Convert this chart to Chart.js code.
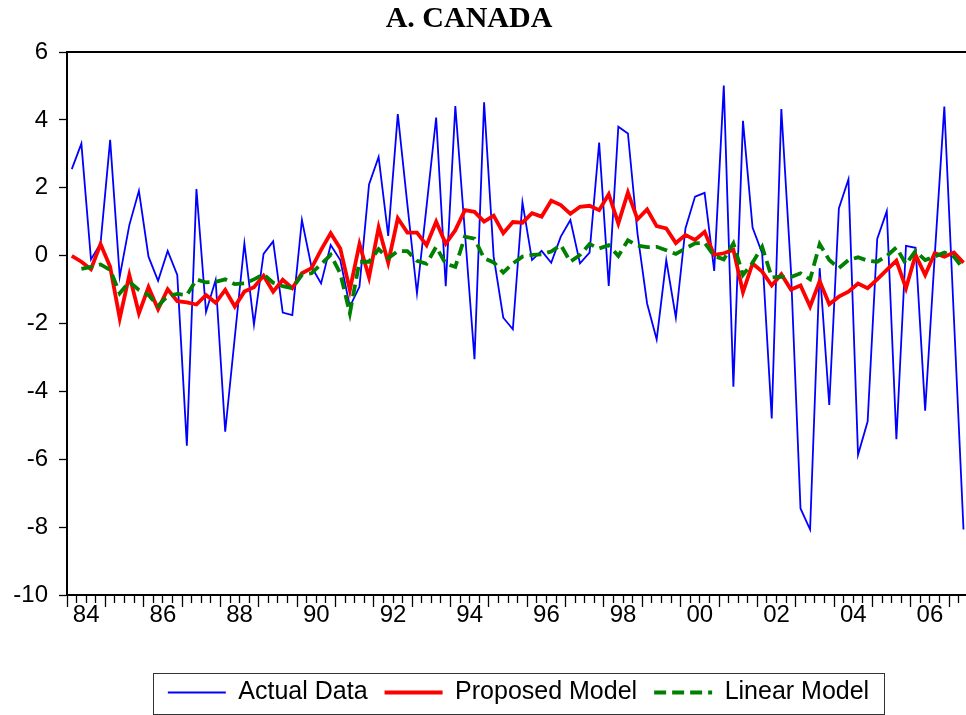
<!DOCTYPE html>
<html>
<head>
<meta charset="utf-8">
<title>A. CANADA</title>
<script src="https://cdn.jsdelivr.net/npm/chart.js@4.4.1/dist/chart.umd.min.js"></script>
<style>
    html, body { margin: 0; padding: 0; background: #fff; }
    #wrap { width: 966px; height: 715px; position: relative; }
</style>
</head>
<body>
<div id="wrap"><canvas id="canadaChart"></canvas></div>
<script>
// Quarterly series, index 0 = 1984Q1 ... index 93 = 2007Q2
const yearLabels = ['84', '86', '88', '90', '92', '94', '96', '98', '00', '02', '04', '06'];
const yTicks = [-10, -8, -6, -4, -2, 0, 2, 4, 6];

const actualData = [
    2.55, 3.30, -0.11, 0.36, 3.41, -0.62, 0.90, 1.91, -0.03, -0.74,
    0.14, -0.57, -5.60, 1.96, -1.66, -0.72, -5.19, -2.40, 0.36, -2.03,
    0.05, 0.42, -1.68, -1.75, 1.05, -0.33, -0.82, 0.31, -0.13, -1.50,
    -0.92, 2.10, 2.91, 0.58, 4.17, 1.50, -1.11, 1.45, 4.07, -0.90,
    4.41, 0.68, -3.05, 4.52, -0.03, -1.83, -2.17, 1.57, -0.13, 0.14,
    -0.21, 0.56, 1.05, -0.23, 0.09, 3.33, -0.89, 3.80, 3.60, 0.65,
    -1.41, -2.47, -0.13, -1.83, 0.80, 1.74, 1.85, -0.45, 5.01, -3.86,
    3.97, 0.83, 0.07, -4.80, 4.32, -0.42, -7.45, -8.07, -0.37, -4.40,
    1.39, 2.25, -5.87, -4.89, 0.49, 1.31, -5.41, 0.29, 0.23, -4.57,
    0.00, 4.39, -1.84, -8.07
];

const proposedModel = [
    -0.01, -0.18, -0.40, 0.34, -0.33, -1.85, -0.57, -1.70, -0.93, -1.58,
    -0.99, -1.34, -1.38, -1.44, -1.16, -1.39, -1.01, -1.50, -1.06, -0.93,
    -0.59, -1.06, -0.71, -0.96, -0.52, -0.37, 0.17, 0.66, 0.21, -1.01,
    0.34, -0.64, 0.83, -0.21, 1.10, 0.68, 0.68, 0.31, 1.00, 0.35,
    0.75, 1.34, 1.29, 1.00, 1.18, 0.66, 0.99, 0.97, 1.25, 1.15,
    1.62, 1.49, 1.23, 1.44, 1.47, 1.34, 1.81, 0.95, 1.86, 1.07,
    1.36, 0.87, 0.80, 0.37, 0.61, 0.46, 0.70, 0.02, 0.07, 0.17,
    -1.08, -0.23, -0.47, -0.88, -0.55, -1.00, -0.88, -1.50, -0.75, -1.43,
    -1.21, -1.06, -0.82, -0.96, -0.70, -0.42, -0.15, -0.96, 0.02, -0.57,
    0.07, -0.03, 0.09, -0.21
];

const linearModel = [
    null, -0.39, -0.33, -0.26, -0.42, -1.11, -0.77, -1.01, -1.16, -1.48,
    -1.19, -1.13, -1.16, -0.70, -0.79, -0.77, -0.70, -0.84, -0.82, -0.70,
    -0.55, -0.80, -0.90, -0.96, -0.57, -0.52, -0.25, 0.02, -0.52, -1.70,
    -0.18, -0.18, 0.19, -0.08, 0.13, 0.13, -0.15, -0.24, 0.26, -0.24,
    -0.33, 0.56, 0.50, -0.08, -0.20, -0.50, -0.23, -0.03, 0.02, 0.04,
    0.12, 0.31, -0.18, 0.02, 0.34, 0.21, 0.31, -0.01, 0.45, 0.30,
    0.25, 0.26, 0.16, 0.05, 0.21, 0.36, 0.38, -0.01, -0.11, 0.36,
    -0.57, -0.21, 0.26, -0.64, -0.62, -0.63, -0.52, -0.70, 0.34, -0.13,
    -0.37, -0.13, -0.05, -0.15, -0.18, -0.01, 0.24, -0.25, 0.14, -0.13,
    -0.03, 0.09, -0.03, -0.40
];

// quarter index -> point
const toPoints = arr => arr.map((v, i) => ({ x: i, y: v }));

const X_MIN = -0.5;   // start of 1984Q1
const X_MAX = 93.26;  // right edge of the plot

Chart.defaults.font.family = "'Liberation Sans', Arial, sans-serif";
Chart.defaults.color = '#000';

// legend box + small position tweaks (EViews centres legend under the plot)
const layoutTweaks = {
    id: 'layoutTweaks',
    afterLayout(chart) {
        const ca = chart.chartArea;
        const lg = chart.legend;
        const shift = ((ca.left + ca.right) - (lg.left + lg.right)) / 2 + 2;
        lg.left += shift;
        lg.right += shift;
        chart.titleBlock.left -= 14;
        chart.titleBlock.right -= 14;
    },
    afterDraw(chart) {
        const lg = chart.legend;
        const pad = lg.options.labels.padding;
        const fontSize = lg.options.labels.font.size;
        const lw = lg.lineWidths[0];
        const startX = (lg.left + pad + lg.right - lw) / 2;
        const endX = startX + lw - pad;
        const cy = lg.top + pad + fontSize / 2;
        const ctx = chart.ctx;
        ctx.save();
        ctx.strokeStyle = '#333';
        ctx.lineWidth = 1;
        ctx.strokeRect(Math.round(startX - 15) + 0.5, Math.round(cy - 20) + 0.5,
            Math.round(endX - startX + 30), 41);
        ctx.restore();
    }
};

const ctx = document.getElementById('canadaChart').getContext('2d');

new Chart(ctx, {
    type: 'line',
    data: {
        datasets: [{
            label: 'Actual Data',
            data: toPoints(actualData),
            borderColor: '#0000ff',
            backgroundColor: '#0000ff',
            borderWidth: 1.8,
            order: 3
        }, {
            label: 'Proposed Model',
            data: toPoints(proposedModel),
            borderColor: '#ff0000',
            backgroundColor: '#ff0000',
            borderWidth: 3.8,
            order: 2
        }, {
            label: 'Linear Model',
            data: toPoints(linearModel),
            borderColor: '#008000',
            backgroundColor: '#008000',
            borderWidth: 3.8,
            borderDash: [12, 6],
            order: 1
        }]
    },
    options: {
        responsive: true,
        maintainAspectRatio: false,
        animation: false,
        devicePixelRatio: 1,
        layout: { padding: { left: 0, right: 0, top: 0, bottom: 0 } },
        elements: {
            point: { radius: 0, hoverRadius: 0 },
            line: { tension: 0, fill: false }
        },
        spanGaps: false,
        plugins: {
            title: {
                display: true,
                text: 'A. CANADA',
                font: { family: "'Liberation Serif', 'Times New Roman', serif", size: 30, weight: 'bold', lineHeight: 1 },
                color: '#000',
                padding: { top: 4, bottom: 18 }
            },
            legend: {
                position: 'bottom',
                labels: {
                    usePointStyle: true,
                    pointStyle: 'line',
                    pointStyleWidth: 58,
                    padding: 17,
                    font: { size: 25 },
                    color: '#000',
                    sort: (a, b) => a.datasetIndex - b.datasetIndex,
                    generateLabels: chart => {
                        const items = Chart.defaults.plugins.legend.labels.generateLabels(chart);
                        items.forEach(item => {
                            const ds = chart.data.datasets[item.datasetIndex];
                            item.strokeStyle = ds.borderColor;
                            item.lineWidth = ds.borderWidth;
                            item.lineDash = ds.borderDash || [];
                        });
                        return items;
                    }
                }
            },
            tooltip: { enabled: false }
        },
        scales: {
            x: {
                type: 'linear',
                position: 'bottom',
                min: X_MIN,
                max: X_MAX,
                bounds: 'data',
                afterBuildTicks: scale => {
                    // a tick at every quarter boundary
                    scale.ticks = actualData.map((_, i) => ({ value: i - 0.5 }));
                },
                afterFit: scale => { scale.height = 68; },
                ticks: {
                    autoSkip: false,
                    maxRotation: 0,
                    minRotation: 0,
                    padding: -4,
                    font: { size: 24, lineHeight: 1 },
                    callback: value => {
                        const q = value + 0.5;          // quarters since 1984Q1
                        if (q % 8 !== 2) return '';
                        return yearLabels[(q - 2) / 8] || '';
                    }
                },
                grid: {
                    drawOnChartArea: false,
                    tickLength: 12,
                    tickColor: '#000',
                    tickWidth: 1.3,
                    tickBorderDash: c => ((c.tick.value + 0.5) % 4 === 0 ? [] : [7, 40])
                },
                border: { color: '#000', width: 2 }
            },
            xTop: {
                type: 'linear',
                position: 'top',
                min: X_MIN,
                max: X_MAX,
                ticks: { display: false },
                grid: { drawOnChartArea: false, drawTicks: false },
                border: { color: '#000', width: 2 }
            },
            y: {
                min: -10,
                max: 6,
                afterBuildTicks: scale => {
                    scale.ticks = yTicks.map(v => ({ value: v }));
                },
                afterFit: scale => { scale.width = 67; },
                ticks: {
                    padding: 11,
                    font: { size: 24, lineHeight: 1 }
                },
                grid: {
                    drawOnChartArea: false,
                    tickLength: 8,
                    tickColor: '#000',
                    tickWidth: 1.3
                },
                border: { color: '#000', width: 2 }
            }
        }
    },
    plugins: [layoutTweaks]
});
</script>
</body>
</html>
